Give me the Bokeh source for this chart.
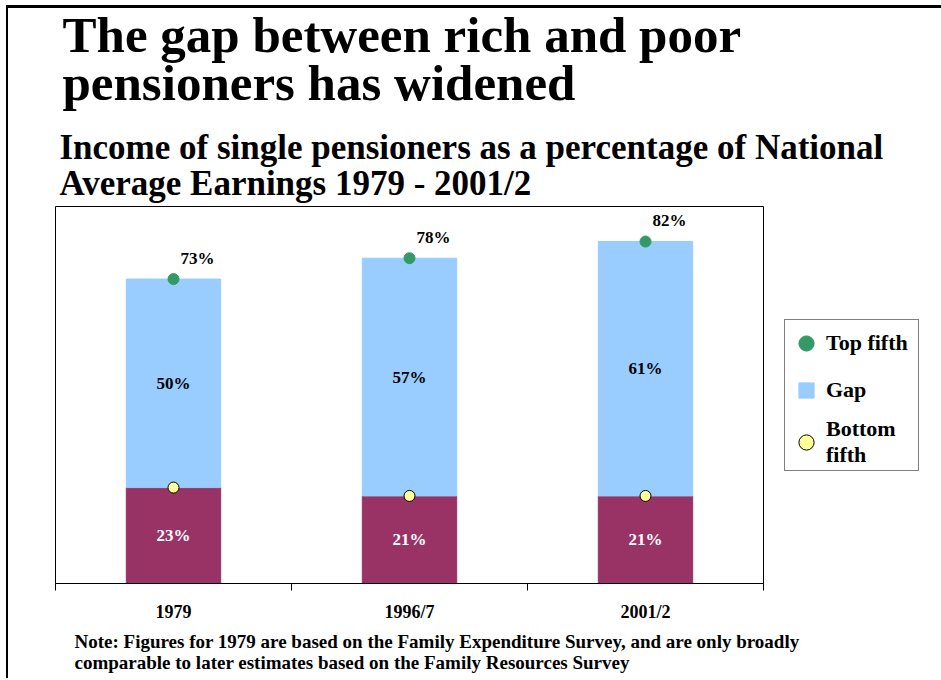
from bokeh.plotting import figure
from bokeh.models import (ColumnDataSource, Legend, LegendItem, Title,
                          FixedTicker, Range1d)
from bokeh.core.properties import value
from bokeh.embed import file_html
from bokeh.resources import INLINE

# ---- data ----
periods = ["1979", "1996/7", "2001/2"]
bottom_fifth = [23, 21, 21]
top_fifth = [73, 78, 82]
gap = [50, 57, 61]

title_lines = ["The gap between rich and poor", "pensioners has widened"]
subtitle_lines = ["Income of single pensioners as a percentage of National",
                  "Average Earnings 1979 - 2001/2"]
note_lines = ["Note: Figures for 1979 are based on the Family Expenditure Survey, and are only broadly",
              "comparable to later estimates based on the Family Resources Survey"]

# ---- style ----
MAROON = "#993366"
BLUE = "#99CCFF"
GREEN = "#339966"
YELLOW = "#FFFF99"
SERIF = value("Liberation Serif")

xs = [i + 0.5 for i in range(len(periods))]
src = ColumnDataSource(dict(
    x=xs,
    bottom=bottom_fifth,
    top=top_fifth,
    bottom_lbl=[f"{v}%" for v in bottom_fifth],
    top_lbl=[f"{v}%" for v in top_fifth],
    gap_lbl=[f"{v}%" for v in gap],
    bottom_mid=[b / 2 for b in bottom_fifth],
    gap_mid=[b + g / 2 for b, g in zip(bottom_fifth, gap)],
))

p = figure(frame_width=708, frame_height=377, output_backend="svg", toolbar_location=None,
           x_range=Range1d(0, 3), y_range=Range1d(0, 90.4),
           y_axis_location=None,
           min_border_left=47, min_border_right=178,
           min_border_top=0, min_border_bottom=0)
p.styles = {"margin-left": "6px", "margin-top": "5px",
            "border-left": "2px solid black", "border-top": "3px solid black"}
p.grid.visible = False
p.outline_line_color = "black"
p.outline_line_width = 1
p.background_fill_color = "white"
p.border_fill_color = "white"

bot = p.vbar(x="x", width=0.4, bottom=0, top="bottom", source=src,
             fill_color=MAROON, line_color=MAROON)
gapbar = p.vbar(x="x", width=0.4, bottom="bottom", top="top", source=src,
                fill_color=BLUE, line_color=BLUE)
gap_marker = p.scatter(x="x", y="top", marker="square", size=0, source=src,
                       fill_color=BLUE, line_color=BLUE)
top_pts = p.scatter(x="x", y="top", size=11, source=src,
                    fill_color=GREEN, line_color=GREEN)
bot_pts = p.scatter(x="x", y="bottom", size=11, source=src,
                    fill_color=YELLOW, line_color="black", line_width=1)

p.text(x="x", y="top", text="top_lbl", source=src, x_offset=24, y_offset=-21,
       text_align="center", text_baseline="middle", text_font=SERIF,
       text_font_style="bold", text_font_size="17px", text_color="black")
p.text(x="x", y="gap_mid", text="gap_lbl", source=src,
       text_align="center", text_baseline="middle", text_font=SERIF,
       text_font_style="bold", text_font_size="17px", text_color="black")
p.text(x="x", y="bottom_mid", text="bottom_lbl", source=src,
       text_align="center", text_baseline="middle", text_font=SERIF,
       text_font_style="bold", text_font_size="17px", text_color="white")

ax = p.xaxis[0]
ax.ticker = FixedTicker(ticks=xs, minor_ticks=[0, 1, 2, 3])
ax.major_label_overrides = {x: lab for x, lab in zip(xs, periods)}
ax.major_tick_line_color = None
ax.major_tick_out = 0
ax.major_tick_in = 0
ax.minor_tick_in = 0
ax.minor_tick_out = 7
ax.minor_tick_line_color = "black"
ax.axis_line_color = "black"
ax.major_label_standoff = 11
ax.major_label_text_font = "Liberation Serif"
ax.major_label_text_font_style = "bold"
ax.major_label_text_font_size = "18px"
ax.major_label_text_color = "black"

legend = Legend(items=[
    LegendItem(label="Top fifth", renderers=[top_pts]),
    LegendItem(label="Gap", renderers=[gap_marker]),
    LegendItem(label="Bottom\nfifth", renderers=[bot_pts]),
], location="left", orientation="vertical",
    glyph_width=38, glyph_height=42, padding=2, spacing=5, margin=21,
    label_standoff=1, label_width=90,
    border_line_color="black", border_line_width=1,
    background_fill_color="white", background_fill_alpha=1,
    label_text_font="Liberation Serif", label_text_font_style="bold",
    label_text_font_size="22px", label_text_color="black")
p.add_layout(legend, "right")


def make_title(txt, offset, size, standoff, line_height=1.2):
    t = Title(text=txt, align="left", offset=offset, standoff=0,
              text_font="Liberation Serif", text_font_style="bold",
              text_font_size=size, text_color="black",
              text_line_height=line_height)
    try:
        t.standoff = standoff
    except ValueError:
        t.standoff = max(standoff, 0)
    return t


# above: first added sits nearest the frame
p.add_layout(make_title("\n".join(subtitle_lines), 4, "35px", 6, 0.93), "above")
p.add_layout(make_title(" ", 0, "1px", 13), "above")   # spacer
p.add_layout(make_title("\n".join(title_lines), 7, "51px", -7, 0.86), "above")
# below: after the axis
p.add_layout(make_title(note_lines[0], 19, "19px", 9), "below")
p.add_layout(make_title(note_lines[1], 19, "19px", -13), "below")
p.add_layout(make_title(" ", 0, "1px", 9), "below")    # spacer

open("out.html", "w").write(file_html(p, INLINE))
